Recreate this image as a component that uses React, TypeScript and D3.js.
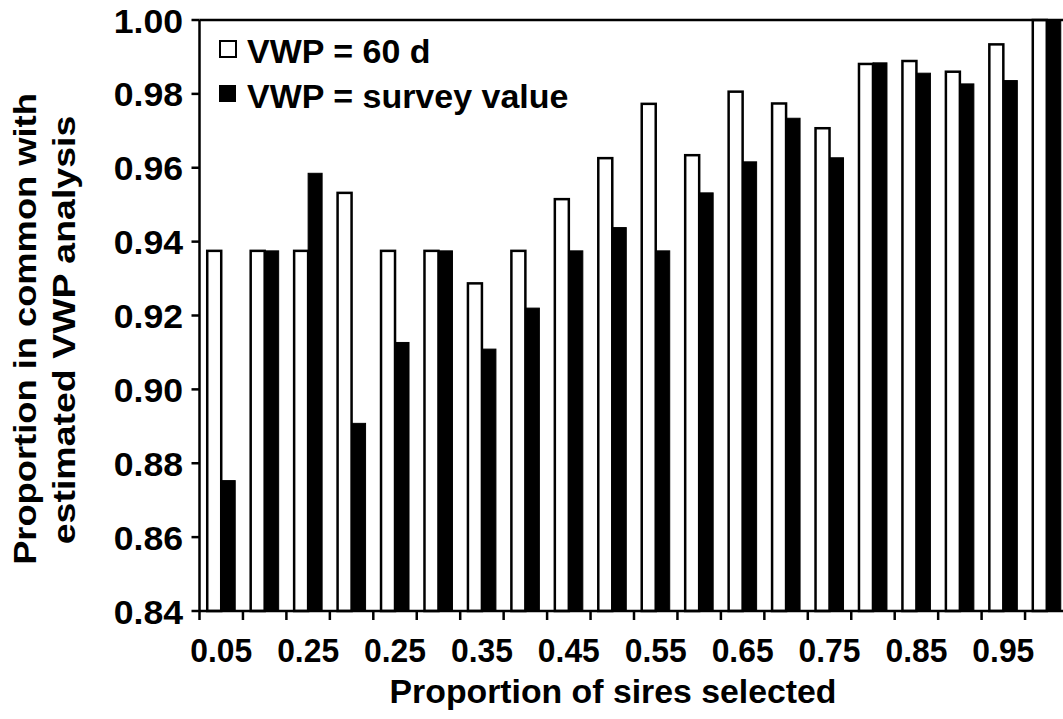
import React from "react";
import * as d3 from "d3";

const categories = ["0.05","0.10","0.15","0.20","0.25","0.30","0.35","0.40","0.45","0.50","0.55","0.60","0.65","0.70","0.75","0.80","0.85","0.90","0.95","1.00"];
const tickLabels = ["0.05","0.25","0.25","0.35","0.45","0.55","0.65","0.75","0.85","0.95"];
const seriesNames = ["VWP = 60 d", "VWP = survey value"];
const vwp60 = [0.9375,0.9375,0.9375,0.9532,0.9375,0.9375,0.9287,0.9375,0.9515,0.9626,0.9773,0.9634,0.9806,0.9774,0.9707,0.9881,0.9889,0.9860,0.9934,1.0];
const vwpSurvey = [0.8753,0.9375,0.9585,0.8908,0.9127,0.9375,0.9109,0.9220,0.9375,0.9438,0.9375,0.9532,0.9616,0.9734,0.9627,0.9884,0.9856,0.9827,0.9836,1.0];
const yTicks = [0.84,0.86,0.88,0.90,0.92,0.94,0.96,0.98,1.00];

const W = 1063, H = 719;
const left = 199.5, right = 1068.5, top = 20, bottom = 611;
const FONT = "'Liberation Sans', Arial, sans-serif";

export default function App() {
  const pad = 0.356;
  const x0 = d3.scaleBand<string>().domain(categories).range([left, right]).paddingInner(pad).paddingOuter(pad / 2);
  const x1 = d3.scaleBand<string>().domain(["a", "b"]).range([0, x0.bandwidth()]).padding(0);
  const y = d3.scaleLinear().domain([0.84, 1.0]).range([bottom, top]);
  const step = x0.step();
  const boundaries = d3.range(categories.length + 1).map((i) => left + i * step);

  return (
    <svg width={W} height={H} style={{ position: "absolute", left: 0, top: 0, background: "#fff" }} fontFamily={FONT} fontWeight="bold">
      <rect x={0} y={0} width={W} height={H} fill="#fff" />
      {categories.map((c, i) => {
        const gx = x0(c)!;
        return (
          <g key={c}>
            <rect x={gx + x1("a")!} y={y(vwp60[i])} width={x1.bandwidth()} height={bottom - y(vwp60[i])} fill="#fff" stroke="#000" strokeWidth={2.5} />
            <rect x={gx + x1("b")!} y={y(vwpSurvey[i])} width={x1.bandwidth()} height={bottom - y(vwpSurvey[i])} fill="#000" stroke="#000" strokeWidth={1} />
          </g>
        );
      })}
      {/* frame */}
      <line x1={left} x2={left} y1={top} y2={bottom} stroke="#000" strokeWidth={2.5} />
      <line x1={left} x2={right} y1={top} y2={top} stroke="#000" strokeWidth={2.5} />
      <line x1={left} x2={right} y1={bottom} y2={bottom} stroke="#000" strokeWidth={2.5} />
      <line x1={right} x2={right} y1={top} y2={bottom} stroke="#000" strokeWidth={2.5} />
      {/* y ticks */}
      {yTicks.map((t) => (
        <g key={t}>
          <line x1={left - 8} x2={left} y1={y(t)} y2={y(t)} stroke="#000" strokeWidth={2.5} />
          <g transform={`translate(${183},${y(t) + 12.5}) scale(1.08,1)`}>
            <text x={0} y={0} textAnchor="end" fontSize={33} fill="#000">{t.toFixed(2)}</text>
          </g>
        </g>
      ))}
      {/* x ticks */}
      {boundaries.map((b, i) => (
        <line key={i} x1={b} x2={b} y1={bottom} y2={bottom + 9} stroke="#000" strokeWidth={2.5} />
      ))}
      {tickLabels.map((l, i) => {
        const c = categories[i * 2];
        const cx = x0(c)! + x0.bandwidth() / 2;
        return (
          <g key={i} transform={`translate(${cx},${662}) scale(0.98,1)`}>
            <text textAnchor="middle" fontSize={32.5} fill="#000">{l}</text>
          </g>
        );
      })}
      {/* x title */}
      <g transform={`translate(${613},${703}) scale(1.04,1)`}>
        <text textAnchor="middle" fontSize={32.5} fill="#000">Proportion of sires selected</text>
      </g>
      {/* y title */}
      <g transform={`translate(${36},${329}) scale(1.02,1.21) rotate(-90)`}>
        <text textAnchor="middle" fontSize={30} fill="#000">Proportion in common with</text>
      </g>
      <g transform={`translate(${75},${330}) scale(1.02,1.25) rotate(-90)`}>
        <text textAnchor="middle" fontSize={30} fill="#000">estimated VWP analysis</text>
      </g>
      {/* legend */}
      <rect x={220} y={41} width={16} height={16} fill="#fff" stroke="#000" strokeWidth={2} />
      <g transform={`translate(${247},${63}) scale(1.03,1)`}>
        <text fontSize={33} fill="#000">{seriesNames[0]}</text>
      </g>
      <rect x={219} y={85} width={17} height={17} fill="#000" />
      <g transform={`translate(${247},${108}) scale(1.03,1)`}>
        <text fontSize={33} fill="#000">{seriesNames[1]}</text>
      </g>
    </svg>
  );
}
